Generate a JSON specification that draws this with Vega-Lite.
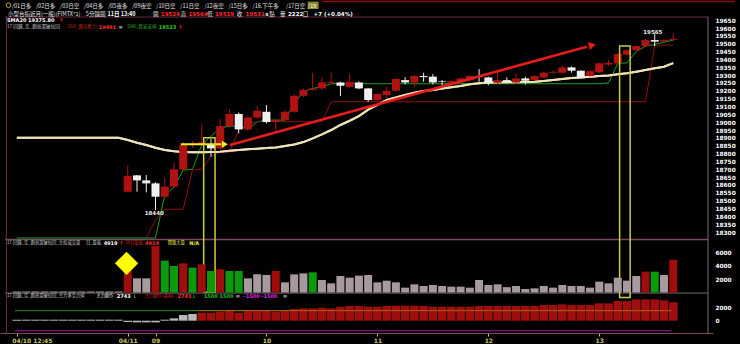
{
"$schema":"https://vega.github.io/schema/vega-lite/v6.json",
"width":713,"height":333,
"autosize":{"type":"none"},
"padding":{"left":0,"top":0,"right":27,"bottom":11},
"background":"#000000",
"config":{"view":{"stroke":null},"text":{"font":"Noto Sans CJK TC"},"axis":{"grid":false,"title":null,"domain":false,"ticks":false,"labelColor":"#ffffff","labelFont":"DejaVu Sans","labelFontWeight":"bold","labelFontSize":6,"labelOverlap":false,"labelBound":false}},
"datasets":{"main":[
{"i":0,"v":150,"vc":"w","f":150,"fc":"w","sma":18900,"g":18262},
{"i":1,"v":150,"vc":"w","f":150,"fc":"w","sma":18900,"g":18262},
{"i":2,"v":150,"vc":"w","f":150,"fc":"w","sma":18900,"g":18262},
{"i":3,"v":150,"vc":"w","f":150,"fc":"w","sma":18900,"g":18262},
{"i":4,"v":150,"vc":"w","f":150,"fc":"w","sma":18900,"g":18262},
{"i":5,"v":150,"vc":"w","f":150,"fc":"w","sma":18900,"g":18262},
{"i":6,"v":150,"vc":"w","f":150,"fc":"w","sma":18900,"g":18262},
{"i":7,"v":150,"vc":"w","f":150,"fc":"w","sma":18900,"g":18262},
{"i":8,"v":150,"vc":"w","f":150,"fc":"w","sma":18900,"g":18262},
{"i":9,"v":150,"vc":"w","f":150,"fc":"w","sma":18900,"g":18262},
{"i":10,"v":150,"vc":"w","f":150,"fc":"w","sma":18900,"g":18262},
{"i":11,"v":150,"vc":"w","f":150,"fc":"w","sma":18900,"g":18262},
{"i":12,"o":18557,"h":18722,"l":18555,"c":18657,"dir":"up","v":3400,"vc":"r","f":-200,"fc":"w","sma":18886,"g":18262},
{"i":13,"o":18661,"h":18663,"l":18557,"c":18629,"dir":"down","v":2125,"vc":"w","f":-250,"fc":"w","sma":18869,"g":18262},
{"i":14,"o":18629,"h":18663,"l":18553,"c":18610,"dir":"down","v":2125,"vc":"w","f":-250,"fc":"w","sma":18854,"g":18262,"r":18262},
{"i":15,"o":18610,"h":18617,"l":18440,"c":18525,"dir":"down","v":6975,"vc":"r","f":-250,"fc":"w","sma":18837,"g":18262,"r":18376},
{"i":16,"o":18525,"h":18646,"l":18517,"c":18589,"dir":"up","v":4775,"vc":"g","f":150,"fc":"w","sma":18822,"g":18536,"r":18445},
{"i":17,"o":18589,"h":18738,"l":18585,"c":18699,"dir":"up","v":3975,"vc":"g","f":350,"fc":"w","sma":18814,"g":18587,"r":18445},
{"i":18,"o":18699,"h":18875,"l":18695,"c":18854,"dir":"up","v":4375,"vc":"r","f":850,"fc":"w","sma":18810,"g":18695,"r":18445},
{"i":19,"o":18854,"h":18880,"l":18835,"c":18865,"dir":"up","v":3725,"vc":"g","f":1000,"fc":"w","sma":18808,"g":18700,"r":18695},
{"i":20,"o":18860,"h":18986,"l":18845,"c":18872,"dir":"up","v":4225,"vc":"r","f":1190,"fc":"r","sma":18808,"g":18854,"r":18700},
{"i":21,"o":18860,"h":18892,"l":18780,"c":18833,"dir":"down","v":3225,"vc":"g","f":1190,"fc":"r","sma":18810,"g":18911,"r":18780},
{"i":22,"o":18833,"h":19020,"l":18825,"c":18975,"dir":"up","v":3475,"vc":"r","f":1340,"fc":"r","sma":18811,"g":18962,"r":18808},
{"i":23,"o":18975,"h":19082,"l":18965,"c":19052,"dir":"up","v":3225,"vc":"g","f":1440,"fc":"r","sma":18818,"g":18975,"r":18808},
{"i":24,"o":19052,"h":19062,"l":18929,"c":18954,"dir":"down","v":3225,"vc":"g","f":1190,"fc":"r","sma":18822,"g":18975,"r":18950},
{"i":25,"o":18954,"h":19040,"l":18945,"c":19030,"dir":"up","v":2125,"vc":"w","f":1440,"fc":"r","sma":18827,"g":18954,"r":18990},
{"i":26,"o":19030,"h":19103,"l":19020,"c":19073,"dir":"up","v":2725,"vc":"w","f":1590,"fc":"r","sma":18831,"g":19003,"r":19003},
{"i":27,"o":19066,"h":19109,"l":18992,"c":19001,"dir":"down","v":2625,"vc":"w","f":1490,"fc":"r","sma":18835,"g":19013,"r":19003},
{"i":28,"o":19001,"h":19020,"l":18939,"c":19013,"dir":"up","v":3225,"vc":"r","f":1340,"fc":"r","sma":18839,"g":19013,"r":19003},
{"i":29,"o":19013,"h":19075,"l":19005,"c":19066,"dir":"up","v":1525,"vc":"w","f":1440,"fc":"r","sma":18848,"g":19013,"r":19003},
{"i":30,"o":19066,"h":19178,"l":19060,"c":19168,"dir":"up","v":2725,"vc":"w","f":1740,"fc":"r","sma":18858,"g":19120,"r":19003},
{"i":31,"o":19168,"h":19215,"l":19160,"c":19206,"dir":"up","v":2875,"vc":"w","f":1840,"fc":"r","sma":18873,"g":19194,"r":19003},
{"i":32,"o":19206,"h":19315,"l":19200,"c":19215,"dir":"up","v":3025,"vc":"g","f":1840,"fc":"r","sma":18897,"g":19215,"r":19003},
{"i":33,"o":19215,"h":19289,"l":19205,"c":19253,"dir":"up","v":1875,"vc":"w","f":1940,"fc":"r","sma":18922,"g":19225,"r":19003},
{"i":34,"o":19250,"h":19315,"l":19238,"c":19256,"dir":"up","v":1375,"vc":"w","f":1840,"fc":"r","sma":18950,"g":19245,"r":19130},
{"i":35,"o":19253,"h":19258,"l":19166,"c":19232,"dir":"down","v":2475,"vc":"w","f":2090,"fc":"r","sma":18982,"g":19245,"r":19130},
{"i":36,"o":19225,"h":19306,"l":19220,"c":19257,"dir":"up","v":2225,"vc":"w","f":2190,"fc":"r","sma":19009,"g":19245,"r":19130},
{"i":37,"o":19253,"h":19260,"l":19210,"c":19215,"dir":"down","v":2525,"vc":"w","f":2190,"fc":"r","sma":19039,"g":19245,"r":19130},
{"i":38,"o":19215,"h":19218,"l":19130,"c":19141,"dir":"down","v":2625,"vc":"w","f":2090,"fc":"r","sma":19080,"g":19245,"r":19130},
{"i":39,"o":19141,"h":19185,"l":19130,"c":19179,"dir":"up","v":1525,"vc":"w","f":2090,"fc":"r","sma":19110,"g":19245,"r":19130},
{"i":40,"o":19172,"h":19225,"l":19151,"c":19200,"dir":"up","v":1775,"vc":"w","f":2190,"fc":"r","sma":19141,"g":19245,"r":19130},
{"i":41,"o":19200,"h":19282,"l":19195,"c":19275,"dir":"up","v":1525,"vc":"w","f":2240,"fc":"r","sma":19158,"g":19245,"r":19130},
{"i":42,"o":19268,"h":19287,"l":19240,"c":19253,"dir":"down","v":725,"vc":"w","f":2240,"fc":"r","sma":19173,"g":19245,"r":19130},
{"i":43,"o":19252,"h":19300,"l":19225,"c":19294,"dir":"up","v":1225,"vc":"w","f":2240,"fc":"r","sma":19188,"g":19245,"r":19130},
{"i":44,"o":19294,"h":19315,"l":19257,"c":19287,"dir":"down","v":975,"vc":"w","f":2190,"fc":"r","sma":19198,"g":19245,"r":19130},
{"i":45,"o":19290,"h":19306,"l":19240,"c":19253,"dir":"down","v":1125,"vc":"w","f":2090,"fc":"r","sma":19205,"g":19245,"r":19130},
{"i":46,"o":19262,"h":19268,"l":19225,"c":19258,"dir":"down","v":975,"vc":"w","f":2090,"fc":"r","sma":19215,"g":19245,"r":19130},
{"i":47,"o":19251,"h":19268,"l":19245,"c":19262,"dir":"up","v":875,"vc":"w","f":2090,"fc":"r","sma":19222,"g":19245,"r":19130},
{"i":48,"o":19253,"h":19285,"l":19248,"c":19279,"dir":"up","v":875,"vc":"w","f":2090,"fc":"r","sma":19230,"g":19245,"r":19130},
{"i":49,"o":19268,"h":19300,"l":19262,"c":19294,"dir":"up","v":725,"vc":"w","f":2090,"fc":"r","sma":19241,"g":19245,"r":19130},
{"i":50,"o":19294,"h":19338,"l":19257,"c":19290,"dir":"down","v":1875,"vc":"w","f":2190,"fc":"r","sma":19248,"g":19245,"r":19130},
{"i":51,"o":19285,"h":19290,"l":19235,"c":19247,"dir":"down","v":1125,"vc":"w","f":2190,"fc":"r","sma":19252,"g":19245,"r":19130},
{"i":52,"o":19251,"h":19315,"l":19245,"c":19268,"dir":"up","v":1225,"vc":"w","f":2190,"fc":"r","sma":19252,"g":19245,"r":19130},
{"i":53,"o":19268,"h":19285,"l":19248,"c":19255,"dir":"down","v":800,"vc":"w","f":2190,"fc":"r","sma":19254,"g":19245,"r":19130},
{"i":54,"o":19253,"h":19311,"l":19245,"c":19279,"dir":"up","v":975,"vc":"w","f":2190,"fc":"r","sma":19254,"g":19245,"r":19130},
{"i":55,"o":19279,"h":19290,"l":19240,"c":19264,"dir":"down","v":525,"vc":"w","f":2190,"fc":"r","sma":19256,"g":19245,"r":19130},
{"i":56,"o":19268,"h":19300,"l":19262,"c":19294,"dir":"up","v":625,"vc":"w","f":2190,"fc":"r","sma":19258,"g":19245,"r":19130},
{"i":57,"o":19285,"h":19320,"l":19280,"c":19315,"dir":"up","v":975,"vc":"w","f":2340,"fc":"r","sma":19262,"g":19245,"r":19130},
{"i":58,"o":19315,"h":19330,"l":19310,"c":19321,"dir":"up","v":725,"vc":"w","f":2340,"fc":"r","sma":19268,"g":19245,"r":19130},
{"i":59,"o":19315,"h":19360,"l":19310,"c":19349,"dir":"up","v":1125,"vc":"w","f":2440,"fc":"r","sma":19275,"g":19245,"r":19130},
{"i":60,"o":19349,"h":19355,"l":19315,"c":19328,"dir":"down","v":975,"vc":"w","f":2340,"fc":"r","sma":19281,"g":19245,"r":19130},
{"i":61,"o":19328,"h":19330,"l":19280,"c":19285,"dir":"down","v":975,"vc":"w","f":2340,"fc":"r","sma":19285,"g":19245,"r":19130},
{"i":62,"o":19294,"h":19330,"l":19290,"c":19325,"dir":"up","v":725,"vc":"w","f":2340,"fc":"r","sma":19290,"g":19245,"r":19130},
{"i":63,"o":19318,"h":19380,"l":19310,"c":19375,"dir":"up","v":1625,"vc":"w","f":2590,"fc":"r","sma":19294,"g":19245,"r":19130},
{"i":64,"o":19367,"h":19395,"l":19360,"c":19378,"dir":"up","v":1375,"vc":"w","f":2590,"fc":"r","sma":19298,"g":19250,"r":19130},
{"i":65,"o":19375,"h":19440,"l":19370,"c":19434,"dir":"up","v":2225,"vc":"w","f":2940,"fc":"r","sma":19305,"g":19375,"r":19130},
{"i":66,"o":19430,"h":19465,"l":19425,"c":19459,"dir":"up","v":1775,"vc":"w","f":2940,"fc":"r","sma":19311,"g":19378,"r":19130},
{"i":67,"o":19459,"h":19490,"l":19455,"c":19485,"dir":"up","v":2475,"vc":"w","f":3190,"fc":"r","sma":19321,"g":19450,"r":19130},
{"i":68,"o":19485,"h":19530,"l":19480,"c":19523,"dir":"up","v":3125,"vc":"r","f":3190,"fc":"r","sma":19332,"g":19485,"r":19130},
{"i":69,"o":19523,"h":19565,"l":19485,"c":19513,"dir":"down","v":3125,"vc":"g","f":3190,"fc":"r","sma":19343,"g":19495,"r":19491},
{"i":70,"o":19515,"h":19530,"l":19510,"c":19523,"dir":"up","v":2625,"vc":"w","f":3040,"fc":"r","sma":19353,"g":19510,"r":19491},
{"i":71,"o":19524,"h":19564,"l":19519,"c":19531,"dir":"up","v":4919,"vc":"r","f":2743,"fc":"r","sma":19375.8,"g":19523,"r":19491}
]},
"resolve":{"scale":{"y":"independent","color":"independent"}},
"layer":[
{"data":{"values":[{}]},
 "layer":[
  {"data":{"name":"main"},"mark":{"type":"line","color":"#efe2b8","strokeWidth":2},"encoding":{"x":{"field":"i","type":"quantitative","scale":{"domain":[-1.28,74.76],"nice":false,"zero":false},"axis":{"orient":"bottom","values":[0,12,15,27,39,51,63],"tickCount":20,"labelExpr":"datum.value == 0 ? '04/10 12:45' : datum.value == 12 ? '04/11' : datum.value == 15 ? '09' : datum.value == 27 ? '10' : datum.value == 39 ? '11' : datum.value == 51 ? '12' : '13'","labelColor":"#c8c860","labelFont":"DejaVu Sans","labelFontSize":6,"labelFontWeight":"bold","ticks":true,"tickColor":"#c8c860","tickSize":3,"domain":true,"domainColor":"#7a4a62","domainWidth":1,"labelPadding":1,"grid":false,"title":null,"labelOverlap":false,"labelFlush":false,"labelAlign":{"condition":{"test":"datum.value == 0","value":"left"},"value":"center"},"labelOffset":{"condition":{"test":"datum.value == 0","value":-5},"value":0}}},"y":{"field":"sma","type":"quantitative","scale":{"domain":[17656.4,19778.5],"nice":false,"zero":false},"axis":{"orient":"right","values":[18300,18350,18400,18450,18500,18550,18600,18650,18700,18750,18800,18850,18900,18950,19000,19050,19100,19150,19200,19250,19300,19350,19400,19450,19500,19550,19600,19650],"tickCount":60,"format":"d","labelColor":"#ffffff","labelFont":"DejaVu Sans","labelFontSize":5.8,"labelFontWeight":"bold","labelPadding":2,"ticks":false,"domain":false,"grid":false,"title":null,"labelOverlap":false,"labelBound":false,"labelAlign":"left","labelBaseline":"middle"}}}},
  {"mark":{"type":"rule","color":"#6a2a48","strokeWidth":1},"encoding":{"x":{"datum":-1.28,"type":"quantitative"},"x2":{"datum":74.76},"y":{"datum":19670,"type":"quantitative"}}},
  {"mark":{"type":"rule","color":"#7a4a66","strokeWidth":1.5},"encoding":{"x":{"datum":-1.28,"type":"quantitative"},"x2":{"datum":74.76},"y":{"datum":18252,"type":"quantitative"}}},
  {"mark":{"type":"rule","color":"#707070","strokeWidth":1},"encoding":{"x":{"datum":-1.28,"type":"quantitative"},"x2":{"datum":74.76},"y":{"datum":17911,"type":"quantitative"}}},
  {"mark":{"type":"rule","color":"#6a2a48","strokeWidth":1},"encoding":{"x":{"datum":-1.12,"type":"quantitative"},"y":{"datum":17656.4,"type":"quantitative"},"y2":{"datum":19670}}},
  {"mark":{"type":"rule","color":"#7a6a74","strokeWidth":1},"encoding":{"x":{"datum":74.76,"type":"quantitative"},"y":{"datum":17656.4,"type":"quantitative"},"y2":{"datum":19670}}},
  {"mark":{"type":"rule","color":"#8a1010","strokeWidth":1.5},"encoding":{"x":{"datum":33.06,"type":"quantitative"},"x2":{"datum":77.65},"y":{"datum":19769,"type":"quantitative"}}},
  {"mark":{"type":"rect","color":"#8c8a2a"},"encoding":{"x":{"datum":31.46,"type":"quantitative"},"x2":{"datum":32.64},"y":{"datum":19768,"type":"quantitative"},"y2":{"datum":19721}}},
  {"mark":{"type":"point","shape":"circle","filled":false,"color":"#c0a040","size":22,"strokeWidth":1,"opacity":1},"encoding":{"x":{"datum":-0.9,"type":"quantitative"},"y":{"datum":19745,"type":"quantitative"}}},
  {"data":{"name":"main"},"mark":{"type":"line","color":"#1e9e1e","strokeWidth":1},"encoding":{"x":{"field":"i","type":"quantitative"},"y":{"field":"g","type":"quantitative"}}},
  {"data":{"name":"main"},"mark":{"type":"line","color":"#8c1212","strokeWidth":1},"encoding":{"x":{"field":"i","type":"quantitative"},"y":{"field":"r","type":"quantitative"}}},
  {"data":{"name":"main"},"mark":{"type":"line","color":"#efe2b8","strokeWidth":2},"encoding":{"x":{"field":"i","type":"quantitative"},"y":{"field":"sma","type":"quantitative"}}},
  {"data":{"name":"main"},"mark":{"type":"rule","strokeWidth":1},"encoding":{"x":{"field":"i","type":"quantitative"},"y":{"field":"l","type":"quantitative"},"y2":{"field":"h"},"color":{"field":"dir","type":"nominal","scale":{"domain":["up","down"],"range":["#b01212","#f0f0f0"]},"legend":null}}},
  {"data":{"name":"main"},"mark":{"type":"bar","width":8},"encoding":{"x":{"field":"i","type":"quantitative"},"y":{"field":"o","type":"quantitative"},"y2":{"field":"c"},"color":{"field":"dir","type":"nominal","legend":null}}},
  {"mark":{"type":"rule","color":"#e41c1c","strokeWidth":2.5},"encoding":{"x":{"datum":23.04,"type":"quantitative"},"x2":{"datum":61.65},"y":{"datum":18854,"type":"quantitative"},"y2":{"datum":19481}}},
  {"mark":{"type":"point","shape":"triangle-right","filled":true,"color":"#e41c1c","size":70,"angle":345,"opacity":1},"encoding":{"x":{"datum":62.25,"type":"quantitative"},"y":{"datum":19491,"type":"quantitative"}}},
  {"mark":{"type":"rule","color":"#f0f020","strokeWidth":2},"encoding":{"x":{"datum":17.74,"type":"quantitative"},"x2":{"datum":22.1},"y":{"datum":18859,"type":"quantitative"}}},
  {"mark":{"type":"point","shape":"triangle-right","filled":true,"color":"#f0f020","size":50,"opacity":1},"encoding":{"x":{"datum":22.5,"type":"quantitative"},"y":{"datum":18859,"type":"quantitative"}}},
  {"mark":{"type":"rect","filled":false,"color":"#cccc3c","strokeWidth":1.5},"encoding":{"x":{"datum":20.21,"type":"quantitative"},"x2":{"datum":21.44},"y":{"datum":18901,"type":"quantitative"},"y2":{"datum":17917.6}}},
  {"mark":{"type":"rect","filled":false,"color":"#cccc3c","strokeWidth":1.5},"encoding":{"x":{"datum":65.2,"type":"quantitative"},"x2":{"datum":66.34},"y":{"datum":19485.3,"type":"quantitative"},"y2":{"datum":17882.6}}},
  {"mark":{"type":"text","text":"18440","color":"#e8e8e8","font":"DejaVu Sans","fontWeight":"bold","fontSize":5.5,"align":"center","baseline":"middle"},"encoding":{"x":{"datum":14.86,"type":"quantitative"},"y":{"datum":18423,"type":"quantitative"}}},
  {"mark":{"type":"text","text":"19565","color":"#e8e8e8","font":"DejaVu Sans","fontWeight":"bold","fontSize":5.5,"align":"center","baseline":"middle"},"encoding":{"x":{"datum":68.79,"type":"quantitative"},"y":{"datum":19576,"type":"quantitative"}}},
  {"mark":{"type":"text","text":"/01日多","color":"#e0e0e0","fontSize":5.5,"align":"left","baseline":"middle"},"encoding":{"x":{"datum":-0.533,"type":"quantitative"},"y":{"datum":19743,"type":"quantitative"}}},
  {"mark":{"type":"text","text":"/02日多","color":"#e0e0e0","fontSize":5.5,"align":"left","baseline":"middle"},"encoding":{"x":{"datum":2.069,"type":"quantitative"},"y":{"datum":19743,"type":"quantitative"}}},
  {"mark":{"type":"text","text":"/03日空","color":"#e0e0e0","fontSize":5.5,"align":"left","baseline":"middle"},"encoding":{"x":{"datum":4.672,"type":"quantitative"},"y":{"datum":19743,"type":"quantitative"}}},
  {"mark":{"type":"text","text":"/04日多","color":"#e0e0e0","fontSize":5.5,"align":"left","baseline":"middle"},"encoding":{"x":{"datum":7.274,"type":"quantitative"},"y":{"datum":19743,"type":"quantitative"}}},
  {"mark":{"type":"text","text":"/05夜多","color":"#e0e0e0","fontSize":5.5,"align":"left","baseline":"middle"},"encoding":{"x":{"datum":9.876,"type":"quantitative"},"y":{"datum":19743,"type":"quantitative"}}},
  {"mark":{"type":"text","text":"/09夜空","color":"#e0e0e0","fontSize":5.5,"align":"left","baseline":"middle"},"encoding":{"x":{"datum":12.479,"type":"quantitative"},"y":{"datum":19743,"type":"quantitative"}}},
  {"mark":{"type":"text","text":"/10日空","color":"#e0e0e0","fontSize":5.5,"align":"left","baseline":"middle"},"encoding":{"x":{"datum":15.081,"type":"quantitative"},"y":{"datum":19743,"type":"quantitative"}}},
  {"mark":{"type":"text","text":"/11日空","color":"#e0e0e0","fontSize":5.5,"align":"left","baseline":"middle"},"encoding":{"x":{"datum":17.684,"type":"quantitative"},"y":{"datum":19743,"type":"quantitative"}}},
  {"mark":{"type":"text","text":"/12夜空","color":"#e0e0e0","fontSize":5.5,"align":"left","baseline":"middle"},"encoding":{"x":{"datum":20.286,"type":"quantitative"},"y":{"datum":19743,"type":"quantitative"}}},
  {"mark":{"type":"text","text":"/15日多","color":"#e0e0e0","fontSize":5.5,"align":"left","baseline":"middle"},"encoding":{"x":{"datum":22.888,"type":"quantitative"},"y":{"datum":19743,"type":"quantitative"}}},
  {"mark":{"type":"text","text":"/16.下午多","color":"#e0e0e0","fontSize":5.5,"align":"left","baseline":"middle"},"encoding":{"x":{"datum":25.491,"type":"quantitative"},"y":{"datum":19743,"type":"quantitative"}}},
  {"mark":{"type":"text","text":"/17日空","color":"#e0e0e0","fontSize":5.5,"align":"left","baseline":"middle"},"encoding":{"x":{"datum":29.117,"type":"quantitative"},"y":{"datum":19743,"type":"quantitative"}}},
  {"mark":{"type":"text","text":"/19","color":"#ffffff","fontSize":5.5,"align":"left","baseline":"middle"},"encoding":{"x":{"datum":31.5,"type":"quantitative"},"y":{"datum":19743,"type":"quantitative"}}},
  {"mark":{"type":"text","text":"小型台指近月(一般)(FIMTX*1)","color":"#e8e8e8","fontSize":5.5,"align":"left","baseline":"middle"},"encoding":{"x":{"datum":-0.96,"type":"quantitative"},"y":{"datum":19692,"type":"quantitative"}}},
  {"mark":{"type":"text","text":"5分鐘圖","color":"#e8e8e8","fontSize":5.5,"align":"left","baseline":"middle"},"encoding":{"x":{"datum":7.466,"type":"quantitative"},"y":{"datum":19692,"type":"quantitative"}}},
  {"mark":{"type":"text","text":"11日 13:40","color":"#ffffff","fontSize":5.5,"fontWeight":"bold","align":"left","baseline":"middle"},"encoding":{"x":{"datum":9.812,"type":"quantitative"},"y":{"datum":19692,"type":"quantitative"}}},
  {"mark":{"type":"text","text":"開","color":"#e8e8e8","fontSize":5.5,"align":"left","baseline":"middle"},"encoding":{"x":{"datum":14.718,"type":"quantitative"},"y":{"datum":19692,"type":"quantitative"}}},
  {"mark":{"type":"text","text":"19524","color":"#ff2a2a","font":"DejaVu Sans","fontWeight":"bold","fontSize":5.5,"align":"left","baseline":"middle"},"encoding":{"x":{"datum":15.572,"type":"quantitative"},"y":{"datum":19692,"type":"quantitative"}}},
  {"mark":{"type":"text","text":"高","color":"#e8e8e8","fontSize":5.5,"align":"left","baseline":"middle"},"encoding":{"x":{"datum":17.705,"type":"quantitative"},"y":{"datum":19692,"type":"quantitative"}}},
  {"mark":{"type":"text","text":"19564","color":"#ff2a2a","font":"DejaVu Sans","fontWeight":"bold","fontSize":5.5,"align":"left","baseline":"middle"},"encoding":{"x":{"datum":18.558,"type":"quantitative"},"y":{"datum":19692,"type":"quantitative"}}},
  {"mark":{"type":"text","text":"低","color":"#e8e8e8","fontSize":5.5,"align":"left","baseline":"middle"},"encoding":{"x":{"datum":20.585,"type":"quantitative"},"y":{"datum":19692,"type":"quantitative"}}},
  {"mark":{"type":"text","text":"19519","color":"#ff2a2a","font":"DejaVu Sans","fontWeight":"bold","fontSize":5.5,"align":"left","baseline":"middle"},"encoding":{"x":{"datum":21.438,"type":"quantitative"},"y":{"datum":19692,"type":"quantitative"}}},
  {"mark":{"type":"text","text":"收","color":"#e8e8e8","fontSize":5.5,"align":"left","baseline":"middle"},"encoding":{"x":{"datum":23.784,"type":"quantitative"},"y":{"datum":19692,"type":"quantitative"}}},
  {"mark":{"type":"text","text":"19531","color":"#ff2a2a","font":"DejaVu Sans","fontWeight":"bold","fontSize":5.5,"align":"left","baseline":"middle"},"encoding":{"x":{"datum":24.744,"type":"quantitative"},"y":{"datum":19692,"type":"quantitative"}}},
  {"mark":{"type":"text","text":"s","color":"#ffffff","font":"DejaVu Sans","fontWeight":"bold","fontSize":5.5,"align":"left","baseline":"middle"},"encoding":{"x":{"datum":26.877,"type":"quantitative"},"y":{"datum":19692,"type":"quantitative"}}},
  {"mark":{"type":"text","text":"點","color":"#e8e8e8","fontSize":5.5,"align":"left","baseline":"middle"},"encoding":{"x":{"datum":27.304,"type":"quantitative"},"y":{"datum":19692,"type":"quantitative"}}},
  {"mark":{"type":"text","text":"量","color":"#e8e8e8","fontSize":5.5,"align":"left","baseline":"middle"},"encoding":{"x":{"datum":28.477,"type":"quantitative"},"y":{"datum":19692,"type":"quantitative"}}},
  {"mark":{"type":"text","text":"2222","color":"#ffffff","font":"DejaVu Sans","fontWeight":"bold","fontSize":5.5,"align":"left","baseline":"middle"},"encoding":{"x":{"datum":29.33,"type":"quantitative"},"y":{"datum":19692,"type":"quantitative"}}},
  {"mark":{"type":"text","text":"口","color":"#e8e8e8","fontSize":5.5,"align":"left","baseline":"middle"},"encoding":{"x":{"datum":30.93,"type":"quantitative"},"y":{"datum":19692,"type":"quantitative"}}},
  {"mark":{"type":"text","text":"+7 (+0.04%)","color":"#ffffff","font":"DejaVu Sans","fontWeight":"bold","fontSize":5.5,"align":"left","baseline":"middle"},"encoding":{"x":{"datum":32.1,"type":"quantitative"},"y":{"datum":19692,"type":"quantitative"}}},
  {"mark":{"type":"text","text":"SMA20 19375.80","color":"#ffffff","font":"DejaVu Sans","fontWeight":"bold","fontSize":5,"align":"left","baseline":"middle"},"encoding":{"x":{"datum":-1.067,"type":"quantitative"},"y":{"datum":19652,"type":"quantitative"}}},
  {"mark":{"type":"text","text":"↑","color":"#ff2020","font":"DejaVu Sans","fontWeight":"bold","fontSize":5,"align":"left","baseline":"middle"},"encoding":{"x":{"datum":4.6,"type":"quantitative"},"y":{"datum":19652,"type":"quantitative"}}},
  {"mark":{"type":"text","text":"17.回歸_空_創高突破拉回","color":"#d0d0d0","fontSize":4.6,"align":"left","baseline":"middle"},"encoding":{"x":{"datum":-1.067,"type":"quantitative"},"y":{"datum":19606,"type":"quantitative"}}},
  {"mark":{"type":"text","text":"SAR_賣出壓力","color":"#c02020","fontSize":4.6,"align":"left","baseline":"middle"},"encoding":{"x":{"datum":5.44,"type":"quantitative"},"y":{"datum":19606,"type":"quantitative"}}},
  {"mark":{"type":"text","text":"19491","color":"#ff3030","font":"DejaVu Sans","fontWeight":"bold","fontSize":5,"align":"left","baseline":"middle"},"encoding":{"x":{"datum":8.853,"type":"quantitative"},"y":{"datum":19606,"type":"quantitative"}}},
  {"mark":{"type":"text","text":"=","color":"#e0e0e0","font":"DejaVu Sans","fontWeight":"bold","fontSize":5,"align":"left","baseline":"middle"},"encoding":{"x":{"datum":10.985,"type":"quantitative"},"y":{"datum":19606,"type":"quantitative"}}},
  {"mark":{"type":"text","text":"SAR_買氣支撐","color":"#20b020","fontSize":4.6,"align":"left","baseline":"middle"},"encoding":{"x":{"datum":11.945,"type":"quantitative"},"y":{"datum":19606,"type":"quantitative"}}},
  {"mark":{"type":"text","text":"19523","color":"#20d020","font":"DejaVu Sans","fontWeight":"bold","fontSize":5,"align":"left","baseline":"middle"},"encoding":{"x":{"datum":15.358,"type":"quantitative"},"y":{"datum":19606,"type":"quantitative"}}},
  {"mark":{"type":"text","text":"↑","color":"#ff2020","font":"DejaVu Sans","fontWeight":"bold","fontSize":5,"align":"left","baseline":"middle"},"encoding":{"x":{"datum":17.45,"type":"quantitative"},"y":{"datum":19606,"type":"quantitative"}}}
 ]},
{"data":{"values":[{}]},
 "layer":[
  {"data":{"name":"main"},"mark":{"type":"bar","width":8},"encoding":{"x":{"field":"i","type":"quantitative"},"y":{"field":"v","type":"quantitative","scale":{"domain":[-6075,43875],"nice":false,"zero":false},"axis":{"orient":"right","values":[2000,4000,6000],"tickCount":20,"format":"d","labelColor":"#ffffff","labelFont":"DejaVu Sans","labelFontSize":5.8,"labelFontWeight":"bold","labelPadding":2,"ticks":false,"domain":false,"grid":false,"title":null,"labelOverlap":false,"labelAlign":"left","labelBaseline":"middle"}},"y2":{"datum":0},"color":{"field":"vc","type":"nominal","scale":{"domain":["r","g","w"],"range":["#a00d0d","#0a9a0a","#a8999f"]},"legend":null}}},
  {"mark":{"type":"point","shape":"diamond","filled":true,"color":"#ffff00","size":540,"opacity":1},"encoding":{"x":{"datum":11.87,"type":"quantitative"},"y":{"datum":4380,"type":"quantitative"}}},
  {"mark":{"type":"text","text":"17.回歸_空_創高突破拉回_主指成交量","color":"#d0d0d0","fontSize":4.3,"align":"left","baseline":"middle"},"encoding":{"x":{"datum":-1.067,"type":"quantitative"},"y":{"datum":7500,"type":"quantitative"}}},
  {"mark":{"type":"text","text":"日_量能","color":"#d0d0d0","fontSize":4.3,"align":"left","baseline":"middle"},"encoding":{"x":{"datum":7.47,"type":"quantitative"},"y":{"datum":7500,"type":"quantitative"}}},
  {"mark":{"type":"text","text":"4919","color":"#ffffff","font":"DejaVu Sans","fontWeight":"bold","fontSize":5,"align":"left","baseline":"middle"},"encoding":{"x":{"datum":9.39,"type":"quantitative"},"y":{"datum":7500,"type":"quantitative"}}},
  {"mark":{"type":"text","text":"↑","color":"#ff2020","font":"DejaVu Sans","fontWeight":"bold","fontSize":5,"align":"left","baseline":"middle"},"encoding":{"x":{"datum":11.09,"type":"quantitative"},"y":{"datum":7500,"type":"quantitative"}}},
  {"mark":{"type":"text","text":"30日量能","color":"#d02020","fontSize":4.3,"align":"left","baseline":"middle"},"encoding":{"x":{"datum":11.73,"type":"quantitative"},"y":{"datum":7500,"type":"quantitative"}}},
  {"mark":{"type":"text","text":"4919","color":"#ff3030","font":"DejaVu Sans","fontWeight":"bold","fontSize":5,"align":"left","baseline":"middle"},"encoding":{"x":{"datum":13.87,"type":"quantitative"},"y":{"datum":7500,"type":"quantitative"}}},
  {"mark":{"type":"text","text":"開盤大量","color":"#e8e840","fontSize":4.3,"align":"left","baseline":"middle"},"encoding":{"x":{"datum":16.32,"type":"quantitative"},"y":{"datum":7500,"type":"quantitative"}}},
  {"mark":{"type":"text","text":"N/A","color":"#e8e840","font":"DejaVu Sans","fontWeight":"bold","fontSize":5,"align":"left","baseline":"middle"},"encoding":{"x":{"datum":18.66,"type":"quantitative"},"y":{"datum":7500,"type":"quantitative"}}}
 ]},
{"data":{"values":[{}]},
 "layer":[
  {"mark":{"type":"rule","color":"#1e8a1e","strokeWidth":1},"encoding":{"x":{"datum":-0.2,"type":"quantitative"},"x2":{"datum":70.8},"y":{"datum":1500,"type":"quantitative","scale":{"domain":[-1836,47865],"nice":false,"zero":false},"axis":{"orient":"right","values":[0,2000],"tickCount":20,"format":"d","labelColor":"#ffffff","labelFont":"DejaVu Sans","labelFontSize":5.8,"labelFontWeight":"bold","labelPadding":2,"ticks":false,"domain":false,"grid":false,"title":null,"labelOverlap":false,"labelAlign":"left","labelBaseline":"middle"}}}},
  {"data":{"name":"main"},"mark":{"type":"bar","width":8.5},"encoding":{"x":{"field":"i","type":"quantitative"},"y":{"field":"f","type":"quantitative"},"y2":{"datum":0},"color":{"field":"fc","type":"nominal","scale":{"domain":["r","w"],"range":["#a00d0d","#b8b8b8"]},"legend":null}}},
  {"mark":{"type":"rule","color":"#b0681a","strokeWidth":1,"opacity":0.9},"encoding":{"x":{"datum":19.6,"type":"quantitative"},"x2":{"datum":70.8},"y":{"datum":1500,"type":"quantitative"}}},
  {"mark":{"type":"rule","color":"#a020a0","strokeWidth":1},"encoding":{"x":{"datum":-0.2,"type":"quantitative"},"x2":{"datum":70.8},"y":{"datum":-1500,"type":"quantitative"}}},
  {"mark":{"type":"text","text":"17.回歸_空_創高突破拉回_主力多空力道","color":"#d0d0d0","fontSize":4.3,"align":"left","baseline":"middle"},"encoding":{"x":{"datum":-1.067,"type":"quantitative"},"y":{"datum":3612,"type":"quantitative"}}},
  {"mark":{"type":"text","text":"主力動作","color":"#e0e0e0","fontSize":4.3,"align":"left","baseline":"middle"},"encoding":{"x":{"datum":8.607,"type":"quantitative"},"y":{"datum":3612,"type":"quantitative"}}},
  {"mark":{"type":"text","text":"2743","color":"#ffffff","font":"DejaVu Sans","fontWeight":"bold","fontSize":5,"align":"left","baseline":"middle"},"encoding":{"x":{"datum":10.804,"type":"quantitative"},"y":{"datum":3612,"type":"quantitative"}}},
  {"mark":{"type":"text","text":"↓","color":"#20c020","font":"DejaVu Sans","fontWeight":"bold","fontSize":5,"align":"left","baseline":"middle"},"encoding":{"x":{"datum":12.511,"type":"quantitative"},"y":{"datum":3612,"type":"quantitative"}}},
  {"mark":{"type":"text","text":"主力動作(強弱):","color":"#d02020","fontSize":4.3,"align":"left","baseline":"middle"},"encoding":{"x":{"datum":13.833,"type":"quantitative"},"y":{"datum":3612,"type":"quantitative"}}},
  {"mark":{"type":"text","text":"2743","color":"#ff3030","font":"DejaVu Sans","fontWeight":"bold","fontSize":5,"align":"left","baseline":"middle"},"encoding":{"x":{"datum":17.385,"type":"quantitative"},"y":{"datum":3612,"type":"quantitative"}}},
  {"mark":{"type":"text","text":"↓","color":"#20c020","font":"DejaVu Sans","fontWeight":"bold","fontSize":5,"align":"left","baseline":"middle"},"encoding":{"x":{"datum":18.91,"type":"quantitative"},"y":{"datum":3612,"type":"quantitative"}}},
  {"mark":{"type":"text","text":"1500 1500","color":"#20c020","font":"DejaVu Sans","fontWeight":"bold","fontSize":5,"align":"left","baseline":"middle"},"encoding":{"x":{"datum":20.233,"type":"quantitative"},"y":{"datum":3612,"type":"quantitative"}}},
  {"mark":{"type":"text","text":"=","color":"#e0e0e0","font":"DejaVu Sans","fontWeight":"bold","fontSize":5,"align":"left","baseline":"middle"},"encoding":{"x":{"datum":23.68,"type":"quantitative"},"y":{"datum":3612,"type":"quantitative"}}},
  {"mark":{"type":"text","text":"-1500 -1500","color":"#e020e0","font":"DejaVu Sans","fontWeight":"bold","fontSize":5,"align":"left","baseline":"middle"},"encoding":{"x":{"datum":24.53,"type":"quantitative"},"y":{"datum":3612,"type":"quantitative"}}},
  {"mark":{"type":"text","text":"=","color":"#e0e0e0","font":"DejaVu Sans","fontWeight":"bold","fontSize":5,"align":"left","baseline":"middle"},"encoding":{"x":{"datum":28.8,"type":"quantitative"},"y":{"datum":3612,"type":"quantitative"}}}
 ]}
]
}
